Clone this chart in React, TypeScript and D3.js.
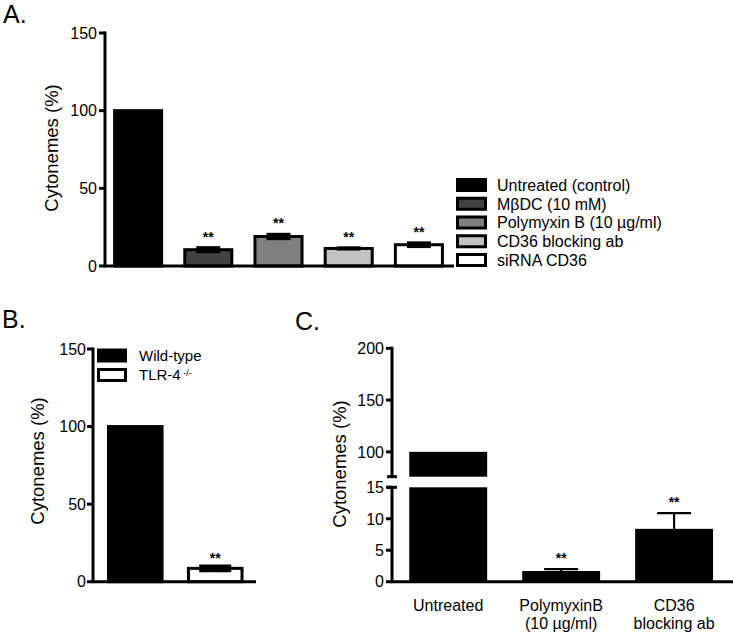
import React from 'react';
import * as d3 from 'd3';

// Panel A
const groupsA = ['Untreated (control)', 'MβDC (10 mM)', ' Polymyxin B (10 µg/ml)', 'CD36 blocking ab', 'siRNA CD36'];
const valuesA = [100, 10.5, 19, 11.3, 13.7];
const errorsA = [0, 1.3, 1.4, 0.4, 1.2];
const fillsA = ['#000000', '#414141', '#808080', '#c2c2c2', '#ffffff'];
const starsA = ['', '**', '**', '**', '**'];
const ticksA = [0, 50, 100, 150];

// Panel B
const groupsB = ['Wild-type', 'TLR-4'];
const valuesB = [100, 8.6];
const errorsB = [0, 1.5];
const fillsB = ['#000000', '#ffffff'];
const starsB = ['', '**'];
const ticksB = [0, 50, 100, 150];

// Panel C (broken axis)
const groupsC = [['Untreated'], ['PolymyxinB', '(10 µg/ml)'], ['CD36', 'blocking ab']];
const valuesC = [100, 1.7, 8.4];
const errorsC = [0, 0.3, 2.5];
const starsC = ['', '**', '**'];
const ticksCLow = [0, 5, 10, 15];
const ticksCHigh = [100, 150, 200];

const FONT = '"Liberation Sans", Arial, sans-serif';

const App = () => {
  // scales A
  const yA = d3.scaleLinear().domain([0, 150]).range([266, 33]);
  const xA = d3.scaleBand<string>().domain(groupsA).range([103, 454]).paddingInner(0.33).paddingOuter(0.165);
  const axA = 105;

  // scales B
  const yB = d3.scaleLinear().domain([0, 150]).range([581.7, 349]);
  const xB = d3.scaleBand<string>().domain(groupsB).range([92.5, 258]).paddingInner(0.33).paddingOuter(0.2);
  const axB = 93;

  // scales C
  const yClo = d3.scaleLinear().domain([0, 15]).range([581.7, 487.3]);
  const yChi = d3.scaleLinear().domain([76, 200]).range([476.7, 348.3]);
  const namesC = groupsC.map(g => g.join(' '));
  const xC = d3.scaleBand<string>().domain(namesC).range([392.3, 730]).paddingInner(0.31).paddingOuter(0.15);
  const axC = 392;

  const yCval = (v: number) => (v <= 15 ? yClo(v) : yChi(v));

  return (
    <svg width={733} height={634} style={{ position: 'absolute', left: 0, top: 0, background: '#fff' }} fontFamily={FONT}>
      {/* ---------- A ---------- */}
      <text x={3} y={23} fontSize={25}>A.</text>
      <g>
        {groupsA.map((g, i) => {
          const x = xA(g)!;
          const w = xA.bandwidth();
          const cx = x + w / 2;
          const v = valuesA[i];
          const e = errorsA[i];
          return (
            <g key={g}>
              <rect x={x} y={yA(v)} width={w} height={yA(0) - yA(v)} fill={fillsA[i]} stroke="#000" strokeWidth={3} />
              {e > 0 && (
                <g stroke="#000" strokeWidth={3}>
                  <line x1={cx} x2={cx} y1={yA(v - e)} y2={yA(v + e)} />
                  <line x1={cx - 12} x2={cx + 12} y1={yA(v + e)} y2={yA(v + e)} />
                  <line x1={cx - 12} x2={cx + 12} y1={yA(v - e)} y2={yA(v - e)} />
                </g>
              )}
              {starsA[i] && (
                <text x={cx} y={yA(v + e) - 6} textAnchor="middle" fontSize={14} fontWeight="bold">{starsA[i]}</text>
              )}
            </g>
          );
        })}
        <line x1={axA} x2={axA} y1={yA(150) - 1.5} y2={yA(0)} stroke="#000" strokeWidth={3} />
        <line x1={axA - 1.5} x2={454} y1={yA(0)} y2={yA(0)} stroke="#000" strokeWidth={3} />
        {ticksA.map(t => (
          <g key={t}>
            <line x1={axA - 6} x2={axA} y1={yA(t)} y2={yA(t)} stroke="#000" strokeWidth={3} />
            <text x={axA - 8} y={yA(t)} dy="0.36em" textAnchor="end" fontSize={16}>{t}</text>
          </g>
        ))}
        <text transform={`translate(58,148) rotate(-90)`} textAnchor="middle" fontSize={18.5}>Cytonemes (%)</text>
        {groupsA.map((g, i) => {
          const cy = 185 + i * 18.75;
          return (
            <g key={'lg' + g}>
              <rect x={457.5} y={cy - 5.5} width={28} height={11} fill={fillsA[i]} stroke="#000" strokeWidth={3} />
              <text x={497} y={cy} dy="0.36em" fontSize={16}>{g}</text>
            </g>
          );
        })}
      </g>

      {/* ---------- B ---------- */}
      <text x={2} y={328} fontSize={25}>B.</text>
      <g>
        {groupsB.map((g, i) => {
          const x = xB(g)!;
          const w = xB.bandwidth();
          const cx = x + w / 2;
          const v = valuesB[i];
          const e = errorsB[i];
          return (
            <g key={g}>
              <rect x={x} y={yB(v)} width={w} height={yB(0) - yB(v)} fill={fillsB[i]} stroke="#000" strokeWidth={3} />
              {e > 0 && (
                <g stroke="#000" strokeWidth={3}>
                  <line x1={cx} x2={cx} y1={yB(v - e)} y2={yB(v + e)} />
                  <line x1={cx - 16} x2={cx + 16} y1={yB(v + e)} y2={yB(v + e)} />
                  <line x1={cx - 16} x2={cx + 16} y1={yB(v - e)} y2={yB(v - e)} />
                </g>
              )}
              {starsB[i] && (
                <text x={cx} y={yB(v + e) - 3} textAnchor="middle" fontSize={14} fontWeight="bold">{starsB[i]}</text>
              )}
            </g>
          );
        })}
        <line x1={axB} x2={axB} y1={yB(150) - 1.5} y2={yB(0)} stroke="#000" strokeWidth={3} />
        <line x1={axB - 1.5} x2={256} y1={yB(0)} y2={yB(0)} stroke="#000" strokeWidth={3} />
        {ticksB.map(t => (
          <g key={t}>
            <line x1={axB - 6} x2={axB} y1={yB(t)} y2={yB(t)} stroke="#000" strokeWidth={3} />
            <text x={axB - 7} y={yB(t)} dy="0.36em" textAnchor="end" fontSize={16}>{t}</text>
          </g>
        ))}
        <text transform={`translate(44,461) rotate(-90)`} textAnchor="middle" fontSize={18.5}>Cytonemes (%)</text>
        {groupsB.map((g, i) => {
          const cy = 355.5 + i * 19.5;
          return (
            <g key={'lg' + g}>
              <rect x={98.5} y={cy - 5.5} width={27} height={11} fill={fillsB[i]} stroke="#000" strokeWidth={3} />
              <text x={139} y={cy} dy="0.36em" fontSize={15}>
                {g}
                {i === 1 && <tspan dy="-0.45em" fontSize={9}> -/-</tspan>}
              </text>
            </g>
          );
        })}
      </g>

      {/* ---------- C ---------- */}
      <text x={295} y={330} fontSize={25}>C.</text>
      <g>
        {namesC.map((g, i) => {
          const x = xC(g)!;
          const w = xC.bandwidth();
          const cx = x + w / 2;
          const v = valuesC[i];
          const e = errorsC[i];
          return (
            <g key={g}>
              {v > 15 ? (
                <>
                  <rect x={x} y={yClo(15)} width={w} height={yClo(0) - yClo(15)} fill="#000" />
                  <rect x={x} y={yChi(v)} width={w} height={yChi.range()[0] - yChi(v)} fill="#000" />
                </>
              ) : (
                <rect x={x} y={yCval(v)} width={w} height={yClo(0) - yClo(v)} fill="#000" />
              )}
              {e > 0 && (
                <g stroke="#000" strokeWidth={2.2}>
                  <line x1={cx} x2={cx} y1={yClo(v)} y2={yClo(v + e)} />
                  <line x1={cx - 17} x2={cx + 17} y1={yClo(v + e)} y2={yClo(v + e)} />
                </g>
              )}
              {starsC[i] && (
                <text x={cx} y={yClo(v + e) - 6} textAnchor="middle" fontSize={14} fontWeight="bold">{starsC[i]}</text>
              )}
              {groupsC[i].map((ln, j) => (
                <text key={ln} x={cx} y={605 + j * 18} dy="0.36em" textAnchor="middle" fontSize={16}>{ln}</text>
              ))}
            </g>
          );
        })}
        {/* broken y axis */}
        <line x1={axC} x2={axC} y1={yChi(200) - 1.5} y2={yChi.range()[0]} stroke="#000" strokeWidth={3} />
        <line x1={axC - 5} x2={axC + 5} y1={yChi.range()[0]} y2={yChi.range()[0]} stroke="#000" strokeWidth={3} />
        <line x1={axC} x2={axC} y1={yClo(15)} y2={yClo(0)} stroke="#000" strokeWidth={3} />
        <line x1={axC - 5} x2={axC + 5} y1={yClo(15)} y2={yClo(15)} stroke="#000" strokeWidth={3} />
        <line x1={axC - 1.5} x2={733} y1={yClo(0)} y2={yClo(0)} stroke="#000" strokeWidth={3} />
        {ticksCHigh.map(t => (
          <g key={'h' + t}>
            <line x1={axC - 6} x2={axC} y1={yChi(t)} y2={yChi(t)} stroke="#000" strokeWidth={3} />
            <text x={axC - 8} y={yChi(t)} dy="0.36em" textAnchor="end" fontSize={16}>{t}</text>
          </g>
        ))}
        {ticksCLow.map(t => (
          <g key={'l' + t}>
            <line x1={axC - 6} x2={axC} y1={yClo(t)} y2={yClo(t)} stroke="#000" strokeWidth={3} />
            <text x={axC - 8} y={yClo(t)} dy="0.36em" textAnchor="end" fontSize={16}>{t}</text>
          </g>
        ))}
        <text transform={`translate(346,464) rotate(-90)`} textAnchor="middle" fontSize={18.5}>Cytonemes (%)</text>
      </g>
    </svg>
  );
};

export default App;
